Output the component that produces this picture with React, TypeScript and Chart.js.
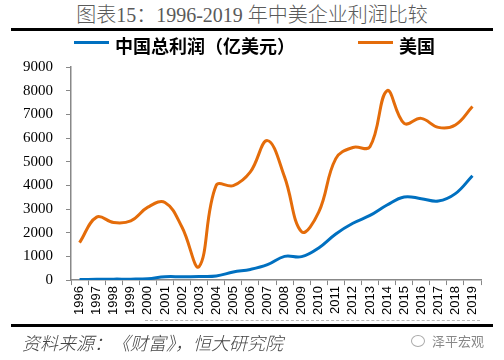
import React, { useEffect, useRef } from "react";
import { Chart, registerables } from "chart.js";

Chart.register(...registerables);

const years = [
  "1996", "1997", "1998", "1999", "2000", "2001", "2002", "2003", "2004", "2005", "2006", "2007",
  "2008", "2009", "2010", "2011", "2012", "2013", "2014", "2015", "2016", "2017", "2018", "2019",
];
const chinaProfit = [
  28, 30, 40, 40, 55, 140, 140, 150, 170, 340, 450, 650,
  1000, 990, 1360, 1950, 2400, 2730, 3170, 3510, 3440, 3340, 3650, 4410,
];
const usProfit = [
  1580, 2660, 2430, 2500, 3080, 3280, 2230, 570, 4000, 3990, 4570, 5890,
  4360, 2040, 2870, 5130, 5600, 5630, 8000, 6620, 6830, 6450, 6550, 7330,
];
const seriesNames = ["中国总利润（亿美元）", "美国"];
const seriesColors = ["#0070C0", "#E46C0A"];
const yMin = 0;
const yMax = 9000;
const yStep = 1000;

export default function App() {
  const canvasRef = useRef<HTMLCanvasElement | null>(null);

  useEffect(() => {
    document.body.style.margin = "0";
    const canvas = canvasRef.current;
    if (!canvas) return;
    const chart = new Chart(canvas, {
      type: "line",
      data: {
        labels: years,
        datasets: [
          {
            label: seriesNames[0],
            data: chinaProfit,
            borderColor: seriesColors[0],
            backgroundColor: seriesColors[0],
            borderWidth: 3,
            pointRadius: 0,
            tension: 0.4,
          },
          {
            label: seriesNames[1],
            data: usProfit,
            borderColor: seriesColors[1],
            backgroundColor: seriesColors[1],
            borderWidth: 3,
            pointRadius: 0,
            tension: 0.4,
          },
        ],
      },
      options: {
        animation: false,
        responsive: false,
        maintainAspectRatio: false,
        layout: { padding: { left: 10, right: 23, top: 10, bottom: 6 } },
        plugins: { legend: { display: false }, tooltip: { enabled: false } },
        scales: {
          x: {
            offset: true,
            grid: {
              offset: true,
              drawOnChartArea: false,
              drawTicks: true,
              tickLength: 5,
              color: "#888888",
            },
            border: { color: "#888888", width: 1.5 },
            ticks: {
              color: "#000000",
              font: { family: "'Liberation Sans', sans-serif", size: 13 },
              minRotation: 90,
              maxRotation: 90,
              autoSkip: false,
              padding: 1,
            },
          },
          y: {
            min: yMin,
            max: yMax,
            grid: {
              drawOnChartArea: false,
              drawTicks: true,
              tickLength: 5,
              color: "#888888",
            },
            border: { color: "#888888", width: 1.5 },
            ticks: {
              stepSize: yStep,
              color: "#000000",
              font: { family: "'Liberation Serif', serif", size: 15 },
              padding: 13,
              callback: (v: any) => String(v),
            },
          },
        },
      },
    });
    return () => chart.destroy();
  }, []);

  const legendLeft = [74, 358];

  return (
    <div
      style={{
        position: "relative",
        width: 504,
        height: 360,
        background: "#ffffff",
        overflow: "hidden",
        fontFamily: "'Noto Sans CJK SC', sans-serif",
      }}
    >
      <canvas
        ref={canvasRef}
        width={504}
        height={277}
        style={{ position: "absolute", top: 45, left: 0, width: 504, height: 277 }}
      />
      <div
        style={{
          position: "absolute",
          top: 2,
          left: 0,
          width: 504,
          textAlign: "center",
          fontSize: 20,
          lineHeight: "26px",
          color: "#5a5a5a",
          fontFamily: "'Liberation Serif', 'Noto Sans CJK SC', serif",
          fontWeight: 300,
        }}
      >
        图表15：1996-2019 年中美企业利润比较
      </div>
      <div style={{ position: "absolute", top: 28, left: 11, width: 482, height: 3, background: "#000" }} />
      {seriesNames.map((name, i) => (
        <div
          key={name}
          style={{ position: "absolute", top: 34, left: legendLeft[i], height: 22, display: "flex", alignItems: "center" }}
        >
          <div style={{ width: 35, height: 3, background: seriesColors[i], marginTop: -6 }} />
          <span style={{ marginLeft: 6, fontSize: 18, fontWeight: 700, color: "#000", lineHeight: "22px" }}>{name}</span>
        </div>
      ))}
      <div style={{ position: "absolute", top: 320, left: 145, width: 335, borderTop: "1px dashed #bbbbbb" }} />
      <div style={{ position: "absolute", top: 324, left: 11, width: 482, height: 3, background: "#000" }} />
      <div
        style={{
          position: "absolute",
          top: 331,
          left: 22,
          fontSize: 18,
          lineHeight: "22px",
          fontStyle: "italic",
          fontWeight: 300,
          color: "#444",
        }}
      >
        资料来源：《财富》，恒大研究院
      </div>
      <div
        style={{
          position: "absolute",
          top: 335,
          left: 411,
          width: 12,
          height: 10,
          border: "1px solid #aaa",
          borderRadius: "50%",
        }}
      />
      <div style={{ position: "absolute", top: 332, left: 432, fontSize: 13, lineHeight: "18px", color: "#888" }}>
        泽平宏观
      </div>
    </div>
  );
}
